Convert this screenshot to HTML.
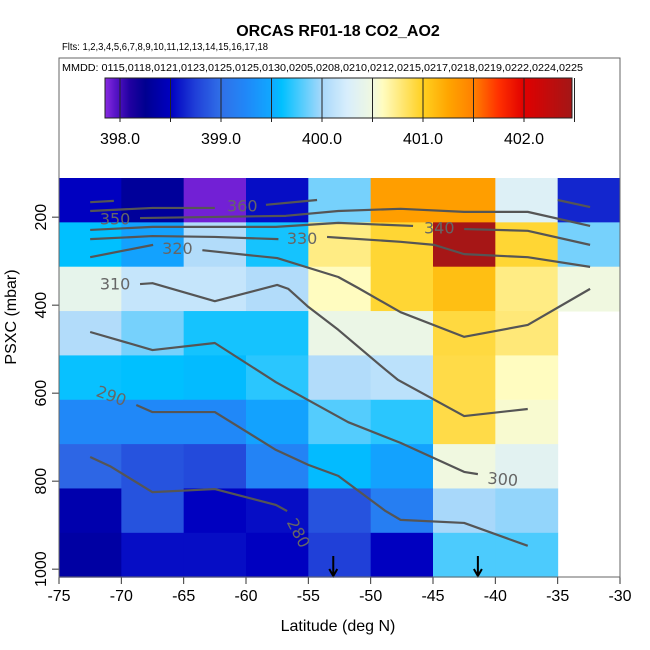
<!DOCTYPE html>
<html><head><meta charset="utf-8"><style>
html,body{margin:0;padding:0;background:#fff;}
svg{display:block;font-family:"Liberation Sans",sans-serif;}
</style></head><body>
<svg id="chart" width="650" height="650" viewBox="0 0 650 650">
<text x="338" y="36" text-anchor="middle" font-size="16" font-weight="bold">ORCAS RF01-18 CO2_AO2</text>
<text x="62" y="50" font-size="10" textLength="206" lengthAdjust="spacingAndGlyphs">Flts: 1,2,3,4,5,6,7,8,9,10,11,12,13,14,15,16,17,18</text>
<text x="62" y="71" font-size="10" textLength="521" lengthAdjust="spacingAndGlyphs">MMDD: 0115,0118,0121,0123,0125,0125,0130,0205,0208,0210,0212,0215,0217,0218,0219,0222,0224,0225</text>
<g id="cells"></g>
<g id="contours"></g>
<g id="cbar"></g>
<g id="axes"></g>
<rect x="59" y="58" width="561" height="519" fill="none" stroke="#666" stroke-width="1"/>
<text x="338" y="631" text-anchor="middle" font-size="16">Latitude (deg N)</text>
<text transform="translate(16,317) rotate(-90)" text-anchor="middle" font-size="16">PSXC (mbar)</text>
</svg>
<script>
// ---- data ----
const latEdges = [-75,-70,-65,-60,-55,-50,-45,-40,-35,-30];
const pTop = 111, pStep = 100.8;
const row1 = [398.5,398.3,397.9,398.55,399.88,401.3,401.3,400.3,398.65];
const row2 = [399.6,399.45,400.05,399.65,400.75,400.95,402.45,400.95,399.88];
const row3 = [400.4,400.15,400.15,400.05,400.6,400.95,401.1,400.75,400.5];
const row4 = [400.05,399.88,399.65,399.65,400.45,400.45,400.92,400.78,null];
const row5 = [399.62,399.6,399.58,399.7,400.05,400.1,400.9,400.6,null];
const row6 = [399.25,399.25,399.25,399.45,399.8,399.7,400.9,400.55,null];
const row7 = [398.95,398.85,398.8,399.2,399.58,399.45,400.5,400.35,null];
const row8 = [398.4,398.85,398.5,398.55,398.85,399.15,400.0,399.95,null];
const row9 = [398.35,398.55,398.55,398.5,398.75,398.5,399.78,399.78,null];
const rows = [row1,row2,row3,row4,row5,row6,row7,row8,row9];
const xTicks = [-75,-70,-65,-60,-55,-50,-45,-40,-35,-30];
const yTicks = [200,400,600,800,1000];
const cbTicks = [398.0,399.0,400.0,401.0,402.0];
const cbLines = [398.0,398.5,399.0,399.5,400.0,400.5,401.0,401.5,402.0,402.5];
const c360a = [[-72.5,166],[-70.6,163]];
const c360b = [[-72.5,186],[-67.5,179],[-62.5,179]];
const c360c = [[-58.4,172],[-54.3,161]];
const c360d = [[-35.0,161],[-32.4,177]];
const c350 = [[-68.5,202],[-56.8,197],[-52.6,186],[-47.6,181],[-42.5,188],[-37.4,188],[-32.4,220]];
const c340a = [[-72.5,229],[-67.5,222],[-62.5,222],[-57.6,222],[-52.6,213],[-46.6,220]];
const c340b = [[-42.5,227],[-37.4,231],[-32.4,263]];
const c330a = [[-72.5,250],[-67.5,243],[-62.5,245],[-57.4,250]];
const c330b = [[-53.5,245],[-52.4,247],[-47.6,256],[-44.9,263],[-42.5,284],[-37.4,291],[-32.4,313]];
const c320a = [[-72.5,291],[-67.45,263]];
const c320b = [[-63.5,275],[-59.9,286],[-57.5,293],[-52.6,336],[-51.0,361],[-47.6,416],[-42.5,472],[-37.4,445],[-32.4,363]];
const c310 = [[-68.5,352],[-67.5,350],[-62.5,391],[-57.5,354],[-56.6,363],[-55.0,404],[-52.6,456],[-48.8,547],[-47.8,570],[-42.5,652],[-37.4,636]];
const c300 = [[-72.5,461],[-67.5,502],[-62.5,486],[-57.6,575],[-55.0,616],[-51.8,666],[-47.6,713],[-42.5,779],[-41.4,784]];
const c290 = [[-68.8,627],[-67.5,643],[-62.5,643],[-57.6,729],[-55.0,763],[-52.6,788],[-48.8,868],[-47.6,888],[-42.5,895],[-37.4,947]];
const c280 = [[-72.5,745],[-70.9,766],[-67.5,825],[-62.5,818],[-57.6,854],[-56.7,868]];
const contourLabels = ["360","350","340","330","320","310","300","290","280"];
const labelPos = [[-60.3,175],[-70.5,204],[-44.5,225],[-55.5,248],[-65.5,271],[-70.5,352],[-39.4,796],[-70.8,606],[-55.8,918]];
const labelRot = [0,0,0,0,0,0,5,20,62];
const arrowLats = [-53.0,-41.4];

// ---- scales ----
function xs(lat){ return 59 + (lat+75)*(561/45); }
function ys(p){ return 178 + (p-111)*0.44; }
const cbX = v => 120 + (v-398)*101;
const stops = [[397.85,"#8a2be2"],[397.95,"#5a15c8"],[398.1,"#2000a0"],[398.25,"#000090"],[398.5,"#0000c0"],[398.75,"#2040d8"],[399.0,"#3070e8"],[399.25,"#2088f8"],[399.5,"#10a8ff"],[399.6,"#00c0ff"],[400.0,"#a8d8fa"],[400.25,"#d8eefc"],[400.5,"#f0f8e0"],[400.6,"#fffcc0"],[401.0,"#ffd020"],[401.25,"#ffa500"],[401.5,"#ff8000"],[401.75,"#ff3000"],[402.0,"#e00000"],[402.5,"#a01818"]];
function hex(h){return [1,3,5].map(i=>parseInt(h.substr(i,2),16));}
function cmap(v){
  if(v<=stops[0][0]) return stops[0][1];
  for(let i=1;i<stops.length;i++){
    if(v<=stops[i][0]){
      const t=(v-stops[i-1][0])/(stops[i][0]-stops[i-1][0]);
      const a=hex(stops[i-1][1]), b=hex(stops[i][1]);
      return "rgb("+a.map((c,k)=>Math.round(c+(b[k]-c)*t)).join(",")+")";
    }
  }
  return stops[stops.length-1][1];
}
const NS="http://www.w3.org/2000/svg";
function mk(tag,attrs,parent){const e=document.createElementNS(NS,tag);for(const k in attrs)e.setAttribute(k,attrs[k]);parent.appendChild(e);return e;}

// heatmap
const gc=document.getElementById("cells");
rows.forEach((r,ri)=>{
  r.forEach((v,ci)=>{
    if(v===null) return;
    const x0=xs(latEdges[ci]), x1=xs(latEdges[ci+1]);
    const y0=ys(pTop+ri*pStep), y1=ys(pTop+(ri+1)*pStep);
    const e=mk("rect",{x:x0,y:y0,width:x1-x0+0.5,height:y1-y0+0.5,fill:cmap(v)},gc);
    
    
  });
});

// contours
const gl=document.getElementById("contours");
[c360a,c360b,c360c,c360d,c350,c340a,c340b,c330a,c330b,c320a,c320b,c310,c300,c290,c280].forEach(c=>{
  const e=mk("polyline",{points:c.map(p=>xs(p[0])+","+ys(p[1])).join(" "),fill:"none",stroke:"#555",'stroke-width':2.2,'stroke-linejoin':"round"},gl);
  
  
});
contourLabels.forEach((t,i)=>{
  const x=xs(labelPos[i][0]), y=ys(labelPos[i][1]);
  const e=mk("text",{x:x,y:y+5.5,'text-anchor':"middle",'font-size':16,fill:"#666",'font-family':"DejaVu Sans, sans-serif",transform:"rotate("+labelRot[i]+","+x+","+y+")"},gl);
  e.textContent=t;
  
  
});
arrowLats.forEach(l=>{
  const x=xs(l);
  const e=mk("path",{d:"M"+x+",556 L"+x+",576 M"+(x-4)+",569 L"+x+",576 L"+(x+4)+",569",stroke:"#000",'stroke-width':2,fill:"none"},gl);
  
  
});

// colorbar
const gb=document.getElementById("cbar");
for(let px=105;px<572;px++){
  const v=398+(px+0.5-120)/101;
  mk("rect",{x:px,y:78,width:1.2,height:40,fill:cmap(v)},gb);
}
cbLines.forEach(v=>{
  const x=cbX(v);
  const e=mk("line",{x1:x,x2:x,y1:78,y2:122,stroke:"#222",'stroke-width':1},gb);
  
  
});
mk("rect",{x:105,y:78,width:467,height:40,fill:"none",stroke:"#222",'stroke-width':1},gb);
cbTicks.forEach(v=>{
  const e=mk("text",{x:cbX(v),y:144,'text-anchor':"middle",'font-size':16},gb);
  e.textContent=v.toFixed(1);
  
  
});

// axes
const ga=document.getElementById("axes");
xTicks.forEach(t=>{
  const x=xs(t);
  mk("line",{x1:x,x2:x,y1:577,y2:584,stroke:"#333"},ga);
  const e=mk("text",{x:x,y:601,'text-anchor':"middle",'font-size':16},ga);
  e.textContent=t;
  
  
});
yTicks.forEach(t=>{
  const y=ys(t);
  mk("line",{x1:52,x2:59,y1:y,y2:y,stroke:"#333"},ga);
  const e=mk("text",{x:0,y:0,'text-anchor':"middle",'font-size':16,transform:"translate(46,"+y+") rotate(-90)"},ga);
  e.textContent=t;
  
  
});
</script>
</body></html>
